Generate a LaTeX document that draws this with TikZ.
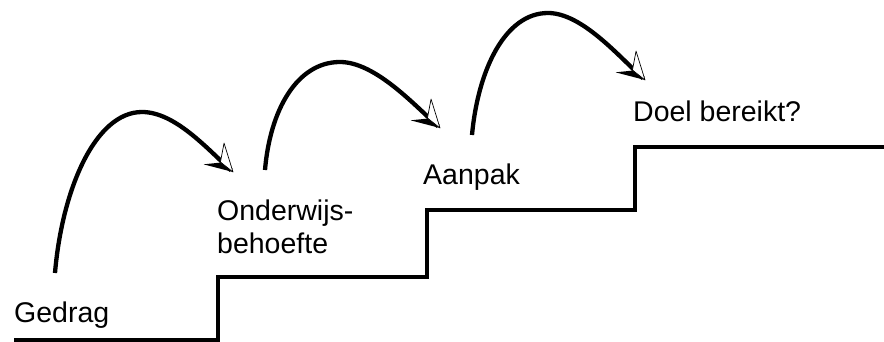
\documentclass[tikz,border=0pt]{standalone}
\usepackage{fontspec}
\setmainfont{Liberation Sans}
\begin{document}
\begin{tikzpicture}[x=1pt,y=-1pt,
  label/.style={anchor=base west,inner sep=0pt,align=left,
    font=\fontsize{28.5}{33}\selectfont},
  stairs/.style={line width=3.2pt},
  jump/.style={line width=4.3pt,shorten >=2.5pt},
  halfhead/.pic={
    % dark barb on the lower side, outlined light barb on the upper side
    \fill[black] (-27,14) -- (0,0) -- (-13,-1.5) -- cycle;
    \filldraw[fill=white,draw=black,line width=0.7pt,line join=round]
      (0,0) -- (-26,-15.5) -- (-16,1) -- cycle;
  }]
\useasboundingbox (0,0) rectangle (884,342);

% staircase
\draw[stairs] (14,340) -- (218,340) -- (218,277) -- (427,277) -- (427,210)
  -- (635,210) -- (635,147) -- (884,147);

% step labels (a two-line label sits on the baseline of its last line)
\node[label] (gedrag) at (14,322) {Gedrag};
\node[label] (behoefte) at (217,253) {Onderwijs-\\behoefte};
\node[label] (aanpak) at (423,185) {Aanpak};
\node[label] (doel) at (633,122) {Doel bereikt?};

% ends and tops of the jumps
\coordinate (s1) at (55,273);  \coordinate (t1) at (142,112); \coordinate (e1) at (233,172);
\coordinate (s2) at (265,170); \coordinate (t2) at (340,62);  \coordinate (e2) at (440,128);
\coordinate (s3) at (472,135); \coordinate (t3) at (548,13);  \coordinate (e3) at (645,80);

% jumps from step to step
\draw[jump] (s1) .. controls (62,190) and (95,112) .. (t1)
  .. controls (175,112) and (207,148.6) .. (e1);
\draw[jump] (s2) .. controls (270,110) and (297,62) .. (t2)
  .. controls (375,62) and (414,104.6) .. (e2);
\draw[jump] (s3) .. controls (478,70) and (505,13) .. (t3)
  .. controls (582,13) and (619,56.6) .. (e3);

% arrowheads
\pic[rotate=-42] at (e1) {halfhead};
\pic[rotate=-42] at (e2) {halfhead};
\pic[rotate=-42] at (e3) {halfhead};
\end{tikzpicture}
\end{document}
